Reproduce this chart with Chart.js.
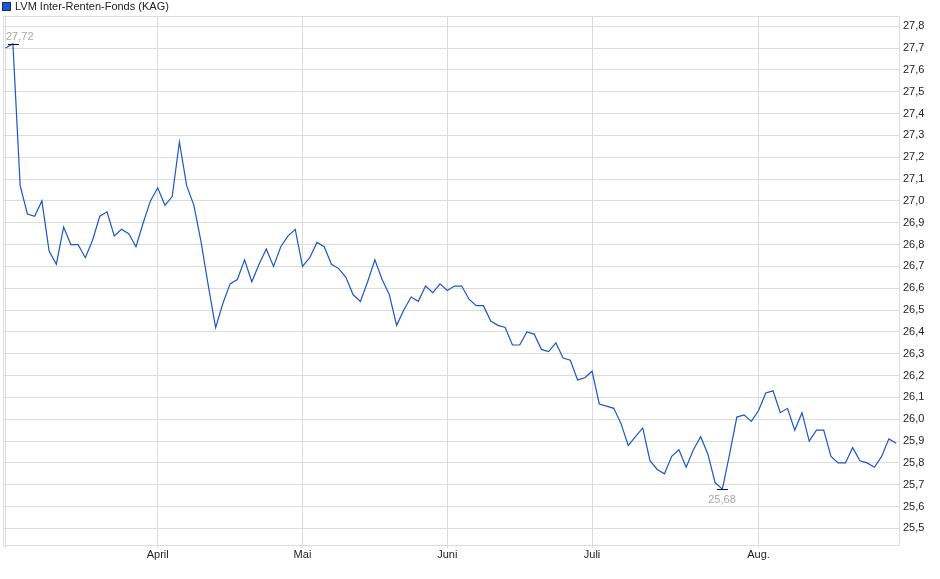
<!DOCTYPE html>
<html>
<head>
<meta charset="utf-8">
<script src="https://cdn.jsdelivr.net/npm/chart.js@4"></script>
<style>
  html, body { margin: 0; padding: 0; background: #fff; }
  #wrap { width: 940px; height: 579px; position: relative; }
</style>
</head>
<body>
<div id="wrap"><canvas id="myChart" width="940" height="579"></canvas></div>
<script>
// Fondspreis, ein Wert je Handelstag
let kurse = [
    27.70, 27.72, 27.07, 26.94, 26.93, 27.00, 26.77, 26.71, 26.88, 26.80,
    26.80, 26.74, 26.82, 26.93, 26.95, 26.84, 26.87, 26.85, 26.79, 26.90,
    27.00, 27.06, 26.98, 27.02, 27.27, 27.07, 26.98, 26.81, 26.61, 26.42,
    26.53, 26.62, 26.64, 26.73, 26.63, 26.71, 26.78, 26.70, 26.79, 26.84,
    26.87, 26.70, 26.74, 26.81, 26.79, 26.71, 26.69, 26.65, 26.57, 26.54,
    26.63, 26.73, 26.64, 26.57, 26.43, 26.50, 26.56, 26.54, 26.61, 26.58,
    26.62, 26.59, 26.61, 26.61, 26.55, 26.52, 26.52, 26.45, 26.43, 26.42,
    26.34, 26.34, 26.40, 26.39, 26.32, 26.31, 26.35, 26.28, 26.27, 26.18,
    26.19, 26.22, 26.07, 26.06, 26.05, 25.98, 25.88, 25.92, 25.96, 25.81,
    25.77, 25.75, 25.83, 25.86, 25.78, 25.86, 25.92, 25.84, 25.71, 25.68,
    25.84, 26.01, 26.02, 25.99, 26.04, 26.12, 26.13, 26.03, 26.05, 25.95,
    26.03, 25.90, 25.95, 25.95, 25.83, 25.80, 25.80, 25.87, 25.81, 25.80,
    25.78, 25.83, 25.91, 25.89
];

// erster Handelstag jedes Monats (Index in kurse)
let monatsIndex = [0, 21, 41, 61, 81, 104];
let monatsNamen = ['', 'April', 'Mai', 'Juni', 'Juli', 'Aug.'];

let yTicks = [25.5, 25.6, 25.7, 25.8, 25.9, 26.0, 26.1, 26.2, 26.3, 26.4, 26.5, 26.6,
    26.7, 26.8, 26.9, 27.0, 27.1, 27.2, 27.3, 27.4, 27.5, 27.6, 27.7, 27.8];

let titel = 'LVM Inter-Renten-Fonds (KAG)';

const schrift = '"Liberation Sans", Arial, sans-serif';
const gridFarbe = '#dcdcdc';
const linienFarbe = '#1b57c6';

function deZahl(v, n) {
    return v.toFixed(n).replace('.', ',');
}

let punkte = [];
for (let i = 0; i < kurse.length; i++) {
    punkte.push({ x: i, y: kurse[i] });
}

// Rahmen, Legende und Hoch/Tief-Markierung
const extras = {
    id: 'extras',
    beforeDatasetsDraw(chart) {
        const a = chart.chartArea;
        const c = chart.ctx;
        c.save();
        c.strokeStyle = gridFarbe;
        c.lineWidth = 1;
        c.strokeRect(Math.round(a.left) + 0.5, Math.round(a.top) + 0.5,
            Math.round(a.right - a.left), Math.round(a.bottom - a.top));
        c.restore();
    },
    afterDatasetsDraw(chart) {
        const c = chart.ctx;
        const a = chart.chartArea;
        const xs = chart.scales.x;
        const ys = chart.scales.y;

        // Legende
        c.save();
        c.fillStyle = linienFarbe;
        c.fillRect(3, 3, 7, 7);
        c.strokeStyle = '#10307a';
        c.lineWidth = 1;
        c.strokeRect(2.5, 2.5, 8, 8);
        c.fillStyle = '#222';
        c.font = '11px ' + schrift;
        c.textBaseline = 'middle';
        c.textAlign = 'left';
        c.fillText(titel, 15, 7);

        let iMax = 0, iMin = 0;
        for (let i = 1; i < kurse.length; i++) {
            if (kurse[i] > kurse[iMax]) iMax = i;
            if (kurse[i] < kurse[iMin]) iMin = i;
        }
        const marke = (i, oben) => {
            const px = Math.round(xs.getPixelForValue(i));
            const py = Math.round(ys.getPixelForValue(kurse[i])) + 0.5;
            c.strokeStyle = '#111';
            c.beginPath();
            c.moveTo(px - 5, py);
            c.lineTo(px + 6, py);
            c.stroke();
            c.font = '11px ' + schrift;
            c.fillStyle = '#a9a7a3';
            const txt = deZahl(kurse[i], 2);
            const w = c.measureText(txt).width;
            let tx = px - w / 2;
            if (tx < a.left + 3) tx = a.left + 3;
            if (tx + w > a.right - 3) tx = a.right - 3 - w;
            c.textAlign = 'left';
            c.fillText(txt, tx, oben ? py - 8 : py + 10);
        };
        marke(iMax, true);
        marke(iMin, false);
        c.restore();
    }
};

let ctx = document.getElementById('myChart').getContext('2d');
let myChart = new Chart(ctx, {
    type: 'line',
    data: {
        datasets: [{
            label: titel,
            data: punkte,
            borderColor: linienFarbe,
            borderWidth: 1.2,
            pointRadius: 0,
            tension: 0,
            fill: false
        }]
    },
    options: {
        responsive: false,
        animation: false,
        events: [],
        layout: { padding: { left: 3, top: 16, right: 0, bottom: 0 } },
        plugins: {
            legend: { display: false },
            tooltip: { enabled: false }
        },
        scales: {
            x: {
                type: 'linear',
                min: -0.37,
                max: 123.4,
                afterBuildTicks: (s) => {
                    s.ticks = monatsIndex.map(v => ({ value: v }));
                },
                afterFit: (s) => { s.height = 34; },
                grid: { color: gridFarbe, tickLength: 3, tickColor: gridFarbe },
                border: { display: false },
                ticks: {
                    autoSkip: false,
                    maxRotation: 0,
                    padding: 0,
                    color: '#222',
                    font: { family: schrift, size: 11 },
                    callback: (v) => {
                        const k = monatsIndex.indexOf(v);
                        return k >= 0 ? monatsNamen[k] : '';
                    }
                }
            },
            y: {
                position: 'right',
                min: 25.424,
                max: 27.847,
                afterBuildTicks: (s) => {
                    s.ticks = yTicks.map(v => ({ value: v }));
                },
                afterFit: (s) => { s.width = 41; },
                grid: { color: gridFarbe, drawTicks: false },
                border: { display: false },
                ticks: {
                    padding: 4,
                    color: '#222',
                    font: { family: schrift, size: 11 },
                    callback: (v) => deZahl(v, 1)
                }
            }
        }
    },
    plugins: [extras]
});
</script>
</body>
</html>
